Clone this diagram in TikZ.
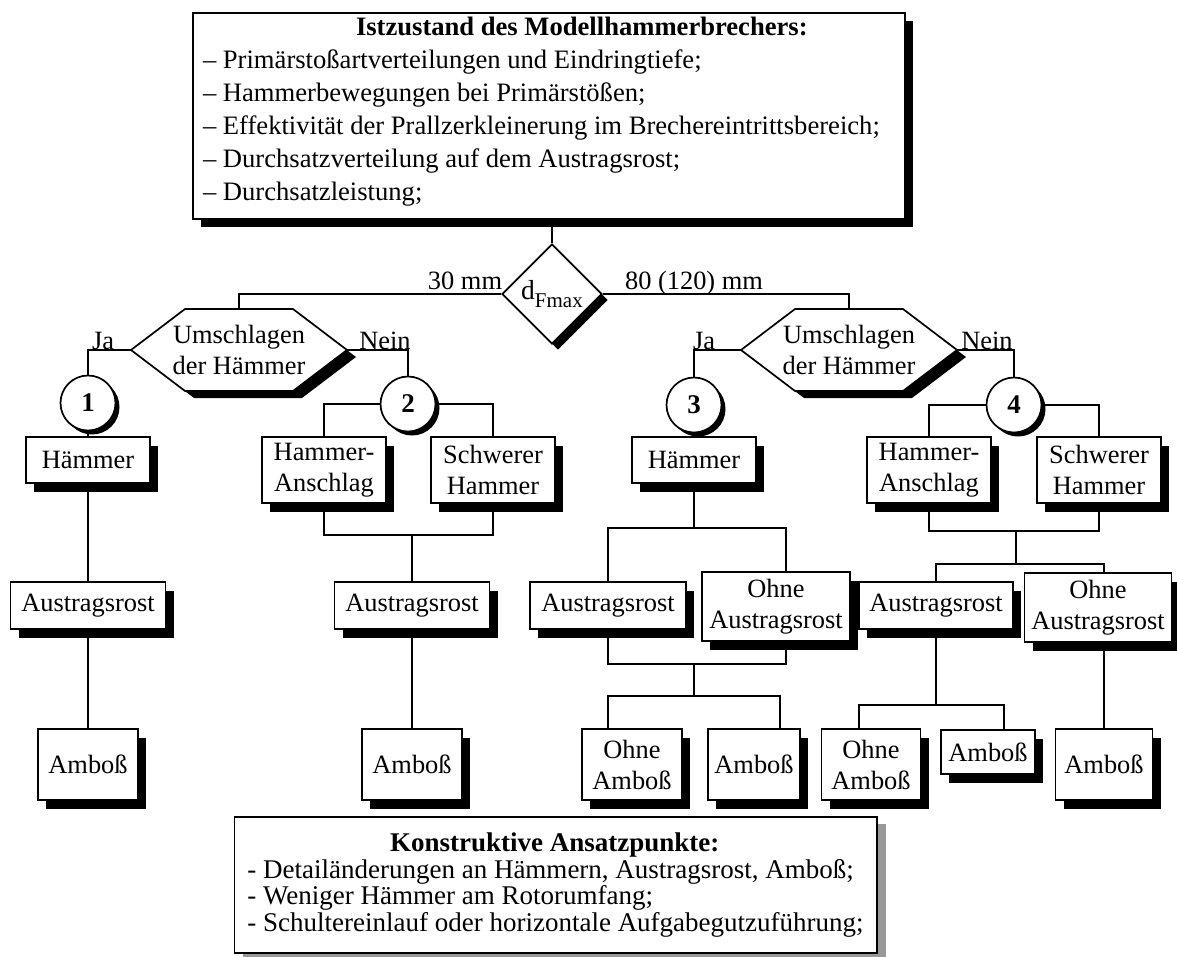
\documentclass[tikz,border=0pt]{standalone}
\usepackage{fontspec}
\setmainfont{Liberation Serif}
\usepackage{tikz}
\usetikzlibrary{shapes.geometric,shadows}

\tikzset{
	every node/.style={font=\fontsize{26.4}{31}\selectfont},
	shbox/.style={draw, fill=white, inner sep=0pt, align=center,
		drop shadow={shadow xshift=8pt, shadow yshift=-9pt, opacity=1, fill=black}},
	headbox/.style={draw, fill=white, inner xsep=10pt, inner ysep=0pt, minimum width=712pt,
		minimum height=206pt, align=left, font=\fontsize{26.6}{33}\selectfont,
		drop shadow={shadow xshift=8pt, shadow yshift=-8pt, opacity=1, fill=black}},
	footbox/.style={draw, fill=white, inner xsep=13pt, inner ysep=0pt, minimum width=641pt,
		minimum height=136pt, align=left, font=\fontsize{27}{26.5}\selectfont,
		drop shadow={shadow xshift=9pt, shadow yshift=-7pt, opacity=1, fill=black!40}},
	decide/.style={diamond, draw, fill=white, minimum width=100pt, minimum height=100pt, inner sep=0pt,
		font=\fontsize{27.5}{31}\selectfont,
		drop shadow={shadow xshift=6pt, shadow yshift=-6pt, opacity=1, fill=black}},
	numc/.style={circle, draw, fill=white, minimum size=55pt, inner sep=0pt,
		font=\fontsize{27}{31}\selectfont\bfseries,
		drop shadow={shadow xshift=4pt, shadow yshift=-4pt, opacity=1, fill=black}},
	hexnode/.style={minimum width=216pt, minimum height=82pt, inner sep=0pt, outer sep=0pt, align=center},
	lab/.style={inner sep=0pt, anchor=base},
	hexa/.pic={
		\fill[black, shift={(9,7)}] (-108,0) -- (-54,-41) -- (54,-41) -- (108,0) -- (54,41) -- (-54,41) -- cycle;
		\draw[fill=white] (-108,0) -- (-54,-41) -- (54,-41) -- (108,0) -- (54,41) -- (-54,41) -- cycle;
	}
}

\begin{document}
\begin{tikzpicture}[x=1pt, y=-1pt, line width=1.7pt]

		%%Location
		\useasboundingbox (0,0) rectangle (1177,956);

		%%Head box
		\node[headbox] (top) at (549,116) {\makebox[692pt][l]{\hspace*{153pt}\bfseries Istzustand des Modellhammerbrechers:}\\
			-- Primärstoßartverteilungen und Eindringtiefe;\\
			-- Hammerbewegungen bei Primärstößen;\\
			-- Effektivität der Prallzerkleinerung im Brechereintrittsbereich;\\
			-- Durchsatzverteilung auf dem Austragsrost;\\
			-- Durchsatzleistung;\rule[-14pt]{0pt}{1pt}};

		%%Decision on feed size
		\node[decide] (dmax) at (552,294) {d\raisebox{-0.3em}{\fontsize{21}{22}\selectfont Fmax}};
		\node[lab] (l30) at (465,289) {30 mm};
		\node[lab] (l80) at (694,289) {80 (120) mm};

		%%Hammer turning
		\pic at (239,350) {hexa};
		\node[hexnode] (hexL) at (239,350) {Umschlagen\\der Hämmer};
		\pic at (849,350) {hexa};
		\node[hexnode] (hexR) at (849,350) {Umschlagen\\der Hämmer};

		\node[lab] (ja1) at (103,349) {Ja};
		\node[lab] (nein1) at (385,349) {Nein};
		\node[lab] (ja2) at (704,349) {Ja};
		\node[lab] (nein2) at (987,349) {Nein};

		%%Cases
		\node[numc] (c1) at (88,403) {1};
		\node[numc] (c2) at (408,404) {2};
		\node[numc] (c3) at (694,405) {3};
		\node[numc] (c4) at (1014,405) {4};

		%%Case 1
		\node[shbox, minimum width=124pt, minimum height=46pt] (h1) at (88,460) {Hämmer};
		\node[shbox, minimum width=155pt, minimum height=47pt] (a1) at (88,605.5) {Austragsrost};
		\node[shbox, minimum width=100pt, minimum height=71pt] (m1) at (88,764.5) {Amboß};

		%%Case 2
		\node[shbox, minimum width=124pt, minimum height=66pt] (ha2) at (324,470) {Hammer-\\Anschlag};
		\node[shbox, minimum width=124pt, minimum height=66pt] (sh2) at (493,470) {Schwerer\\Hammer};
		\node[shbox, minimum width=155pt, minimum height=47pt] (a2) at (412,605.5) {Austragsrost};
		\node[shbox, minimum width=100pt, minimum height=71pt] (m2) at (412,764.5) {Amboß};

		%%Case 3
		\node[shbox, minimum width=124pt, minimum height=46pt] (h3) at (694,460) {Hämmer};
		\node[shbox, minimum width=156pt, minimum height=47pt] (a3) at (608,605.5) {Austragsrost};
		\node[shbox, minimum width=148pt, minimum height=69pt] (oa3) at (776,606.5) {Ohne\\Austragsrost};
		\node[shbox, minimum width=100pt, minimum height=71pt] (oam3) at (632,764.5) {Ohne\\Amboß};
		\node[shbox, minimum width=92pt, minimum height=71pt] (m3b) at (754,764.5) {Amboß};

		%%Case 4
		\node[shbox, minimum width=124pt, minimum height=66pt] (ha4) at (929,470) {Hammer-\\Anschlag};
		\node[shbox, minimum width=124pt, minimum height=66pt] (sh4) at (1099,470) {Schwerer\\Hammer};
		\node[shbox, minimum width=154pt, minimum height=47pt] (a4) at (936,605.5) {Austragsrost};
		\node[shbox, minimum width=147pt, minimum height=69pt] (oa4) at (1098,607.5) {Ohne\\Austragsrost};
		\node[shbox, minimum width=99pt, minimum height=71pt] (oam4) at (871,764.5) {Ohne\\Amboß};
		\node[shbox, minimum width=94pt, minimum height=44pt] (m4b) at (988,752) {Amboß};
		\node[shbox, minimum width=97pt, minimum height=71pt] (m4c) at (1104,764.5) {Amboß};

		%%Result box
		\node[footbox] (foot) at (555.5,885) {\makebox[615pt]{\bfseries Konstruktive Ansatzpunkte:}\\
			- Detailänderungen an Hämmern, Austragsrost, Amboß;\\
			- Weniger Hämmer am Rotorumfang;\\
			- Schultereinlauf oder horizontale Aufgabegutzuführung;};

		%%Junctions
		\coordinate (j2) at (412,535);
		\coordinate (b3) at (694,528);
		\coordinate (j3) at (694,664);
		\coordinate (b3b) at (694,696);
		\coordinate (j4) at (1016,531);
		\coordinate (b4) at (1016,564);
		\coordinate (b4b) at (936,705);

		%%Lines
		\draw (dmax.north) -- (dmax.north |- top.south);
		\draw (dmax.west) -| (hexL.north);
		\draw (dmax.east) -| (hexR.north);
		\draw (hexL.west) -| (c1.north);
		\draw (hexL.east) -| (c2.north);
		\draw (hexR.west) -| (c3.north);
		\draw (hexR.east) -| (c4.north);

		\draw (c1.south) -- (h1.north);
		\draw (h1.south) -- (a1.north);
		\draw (a1.south) -- (m1.north);

		\draw (c2.west) -| (ha2.north);
		\draw (c2.east) -| (sh2.north);
		\draw (ha2.south) |- (j2) -| (sh2.south);
		\draw (j2) -- (a2.north);
		\draw (a2.south) -- (m2.north);

		\draw (c3.south) -- (h3.north);
		\draw (h3.south) -- (b3);
		\draw (a3.north) |- (b3) -| ([xshift=10pt]oa3.north);
		\draw (a3.south) |- (j3) -| ([xshift=10pt]oa3.south);
		\draw (j3) -- (b3b);
		\draw ([xshift=-24pt]oam3.north) |- (b3b) -| ([xshift=26pt]m3b.north);

		\draw (c4.west) -| (ha4.north);
		\draw (c4.east) -| (sh4.north);
		\draw (ha4.south) |- (j4) -| (sh4.south);
		\draw (j4) -- (b4);
		\draw (a4.north) |- (b4) -| ([xshift=6pt]oa4.north);
		\draw (a4.south) -- (b4b);
		\draw ([xshift=-12pt]oam4.north) |- (b4b) -| ([xshift=16pt]m4b.north);
		\draw ([xshift=6pt]oa4.south) -- (m4c.north);

\end{tikzpicture}
\end{document}
